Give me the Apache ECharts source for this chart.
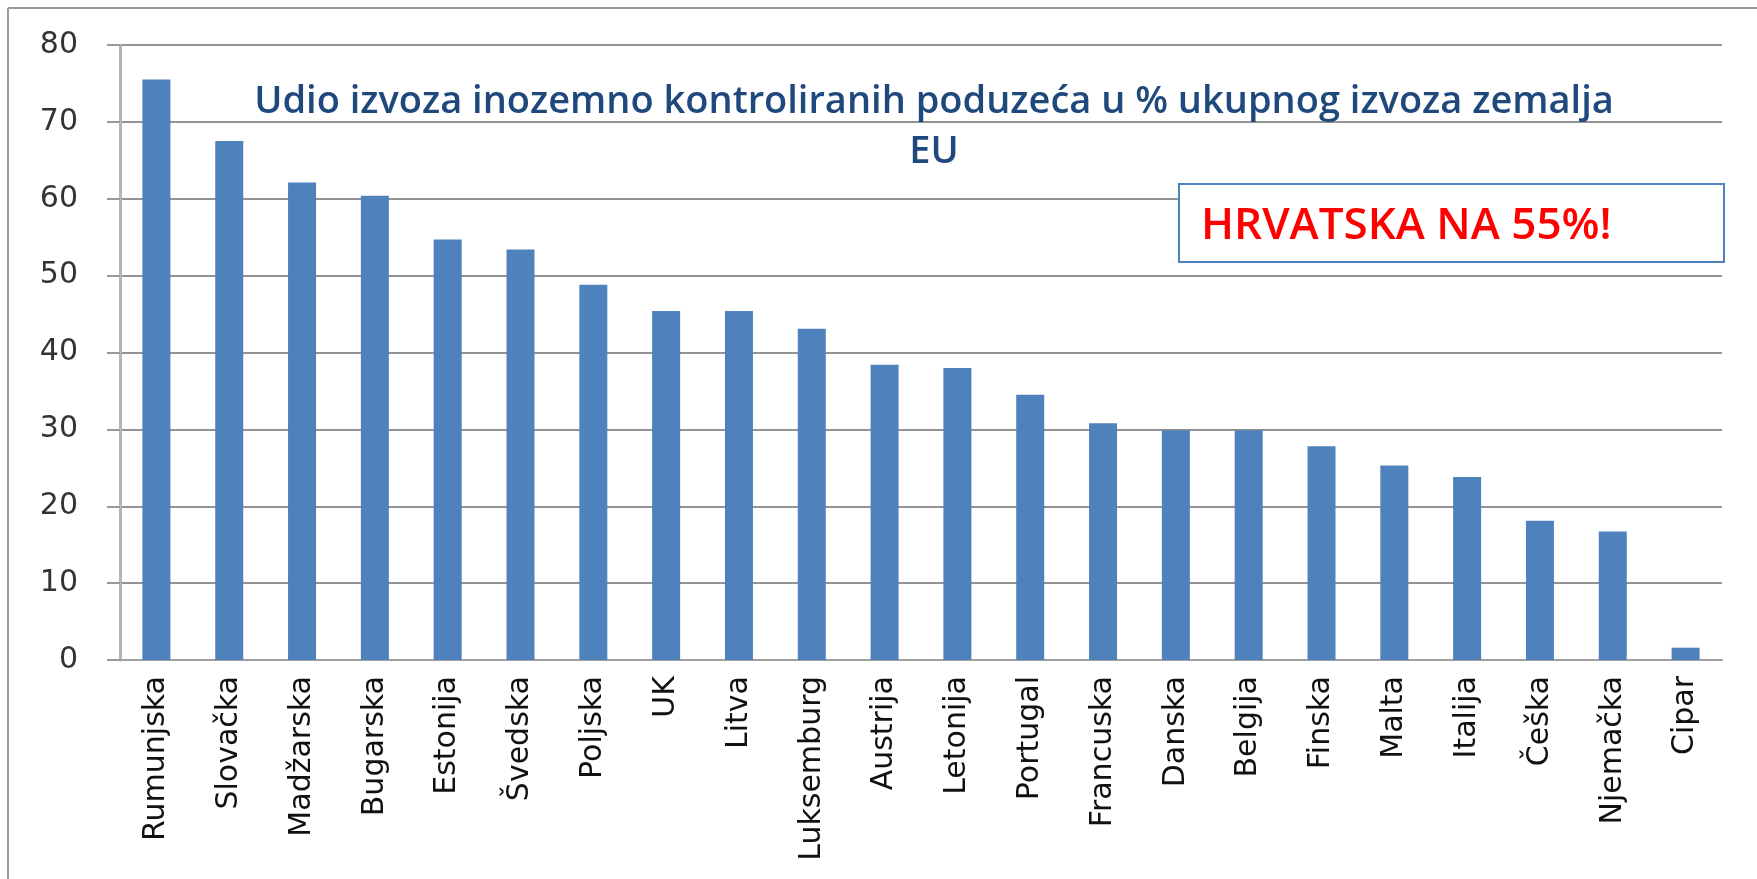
<!DOCTYPE html>
<html lang="hr">

<head>
	<meta charset="UTF-8">
	<title>Udio izvoza inozemno kontroliranih poduzeća</title>
	<style>
		body { margin: 0; background: #fff; }
	</style>
</head>

<body>
	<div id="main" style="width: 1757px;height:879px;"></div>
	<script src="https://cdn.jsdelivr.net/npm/echarts@6.0.0/dist/echarts.min.js"></script>
	<script>
		// zemlje EU, poredane po udjelu
		var zemlje = ['Rumunjska', 'Slovačka', 'Madžarska', 'Bugarska', 'Estonija', 'Švedska', 'Poljska', 'UK', 'Litva',
			'Luksemburg', 'Austrija', 'Letonija', 'Portugal', 'Francuska', 'Danska', 'Belgija', 'Finska', 'Malta',
			'Italija', 'Češka', 'Njemačka', 'Cipar'];
		// udio izvoza (%)
		var udio = [75.5, 67.5, 62.1, 60.4, 54.7, 53.4, 48.8, 45.4, 45.4, 43.1, 38.4, 38.0, 34.5, 30.8, 29.9, 29.9,
			27.8, 25.3, 23.8, 18.1, 16.7, 1.6];
		var yOsa = { min: 0, max: 80, interval: 10 };
		var naslov = 'Udio izvoza inozemno kontroliranih poduzeća u % ukupnog izvoza zemalja\nEU';
		var napomena = 'HRVATSKA NA 55%!';

		var myChart = echarts.init(document.getElementById('main'));

		var option = {
			animation: false,
			backgroundColor: '#fff',
			title: {
				text: naslov,
				left: 929,
				top: 72,
				textAlign: 'center',
				textStyle: {
					fontFamily: 'Open Sans',
					fontWeight: 600,
					fontSize: 38,
					lineHeight: 50,
					color: '#1F497D'
				}
			},
			grid: {
				left: 120,
				right: 35,
				top: 45,
				bottom: 219
			},
			xAxis: {
				type: 'category',
				data: zemlje,
				axisLine: { lineStyle: { color: '#a0a0a0', width: 2 } },
				axisTick: { length: 11, lineStyle: { color: '#a0a0a0', width: 2 } },
				axisLabel: {
					rotate: 90,
					margin: 16,
					interval: 0,
					fontFamily: 'DejaVu Sans',
					fontSize: 30,
					color: '#111'
				}
			},
			yAxis: {
				type: 'value',
				min: yOsa.min,
				max: yOsa.max,
				interval: yOsa.interval,
				axisLine: { show: true, lineStyle: { color: '#b4b4b4', width: 3 } },
				axisTick: { show: true, length: 13, lineStyle: { color: '#999', width: 2 } },
				axisLabel: {
					margin: 42,
					fontFamily: 'DejaVu Sans',
					fontSize: 30,
					color: '#333'
				},
				splitLine: { lineStyle: { color: '#939393', width: 2 } }
			},
			series: [{
				type: 'bar',
				data: udio,
				barWidth: 28,
				itemStyle: { color: '#4F81BD' }
			}],
			graphic: [
				// okvir slike
				{ type: 'line', shape: { x1: 8, y1: 8, x2: 1757, y2: 8 }, style: { stroke: '#9a9a9a', lineWidth: 2 } },
				{ type: 'line', shape: { x1: 8, y1: 8, x2: 8, y2: 879 }, style: { stroke: '#9a9a9a', lineWidth: 2 } },
				// okvir s napomenom
				{
					type: 'rect',
					shape: { x: 1179, y: 184, width: 545, height: 78 },
					style: { fill: '#fff', stroke: '#4F81BD', lineWidth: 2 },
					z: 10
				},
				{
					type: 'text',
					x: 1201,
					y: 226,
					style: {
						text: napomena,
						fill: '#ff0000',
						font: '600 44px "Open Sans"',
						textVerticalAlign: 'middle'
					},
					z: 11
				}
			]
		};

		myChart.setOption(option);
	</script>
</body>

</html>
